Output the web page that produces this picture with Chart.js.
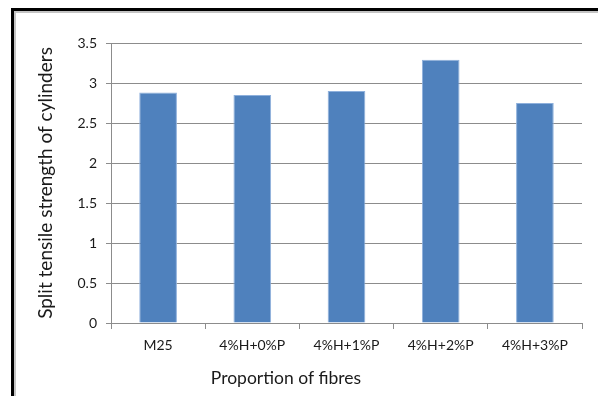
<!DOCTYPE html>
<html>
<head>
<meta charset="utf-8">
<script src="https://cdn.jsdelivr.net/npm/chart.js@4.4.0/dist/chart.umd.min.js"></script>
<style>
  html, body { margin: 0; padding: 0; background: #fff; }
  body { width: 598px; height: 396px; position: relative; overflow: hidden; }
  #frame { position: absolute; left: 11px; top: 8px; width: 700px; height: 500px;
           border-left: 3px solid #000; border-top: 3px solid #000; box-sizing: border-box; }
  #frame-inner { position: absolute; left: 0; top: 0; right: 0; bottom: 0;
           border-left: 2px solid #c4c4c4; border-top: 2px solid #c4c4c4; }
  #c { position: absolute; left: 0; top: 0; }
</style>
</head>
<body>
<div id="frame"><div id="frame-inner"></div></div>
<canvas id="c" width="598" height="396"></canvas>
<script>
// Split tensile strength (MPa) of cylinders for each fibre mix
const categories = ["M25", "4%H+0%P", "4%H+1%P", "4%H+2%P", "4%H+3%P"];
const strength = [2.88, 2.85, 2.90, 3.29, 2.75];
const yTicks = [0, 0.5, 1, 1.5, 2, 2.5, 3, 3.5];

const FONT = "Lato, 'Noto Sans', sans-serif";
const GRID = "#8c8c8c";

// x-axis caption, drawn under the category labels
const xCaption = {
  id: "xCaption",
  afterDraw(chart) {
    const ctx = chart.ctx;
    ctx.save();
    ctx.font = "17.5px " + FONT;
    ctx.fillStyle = "#1a1a1a";
    ctx.textAlign = "center";
    ctx.textBaseline = "middle";
    ctx.fillText("Proportion of fibres", 286, 378);
    ctx.restore();
  }
};

new Chart(document.getElementById("c"), {
  type: "bar",
  data: {
    labels: categories,
    datasets: [{
      data: strength,
      backgroundColor: "#4f81bd",
      borderColor: "#8eb0dc",
      borderWidth: 1,
      categoryPercentage: 1,
      barPercentage: 0.4
    }]
  },
  options: {
    responsive: false,
    animation: false,
    layout: { padding: { left: 0, right: 16, top: 43, bottom: 0 } },
    plugins: { legend: { display: false }, tooltip: { enabled: false } },
    scales: {
      x: {
        grid: { display: true, drawOnChartArea: false, offset: true, color: GRID, tickLength: 6 },
        border: { color: GRID, width: 1 },
        ticks: { font: { family: FONT, size: 14 }, color: "#1a1a1a", padding: 8 },
        afterFit(s) { s.height = 73; }
      },
      y: {
        min: 0, max: 3.5,
        afterBuildTicks(s) { s.ticks = yTicks.map(v => ({ value: v })); },
        grid: { color: GRID, tickLength: 5 },
        border: { color: GRID, width: 1 },
        ticks: {
          font: { family: FONT, size: 14 }, color: "#1a1a1a", padding: 9,
          callback: v => String(v)
        },
        title: {
          display: true,
          text: "Split tensile strength of cylinders",
          font: { family: FONT, size: 19 },
          color: "#1a1a1a",
          padding: { top: 34, bottom: 0 }
        },
        afterFit(s) { s.width = 111; }
      }
    }
  },
  plugins: [xCaption]
});
</script>
</body>
</html>
